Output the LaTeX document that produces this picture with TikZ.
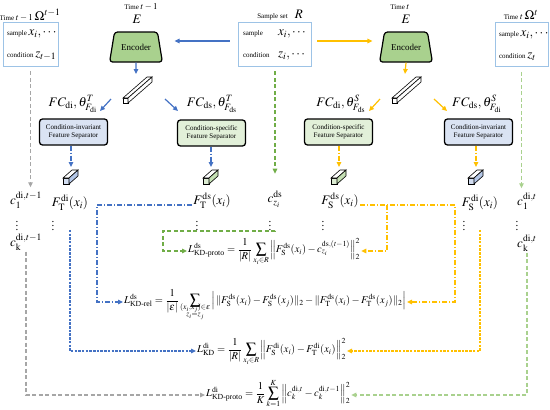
\documentclass[tikz,border=0pt]{standalone}
\usepackage{amsmath}
\usepackage{mathptmx}
\usepackage{fontspec}
\setmainfont{Liberation Serif}
\usetikzlibrary{arrows.meta,shapes.geometric}
\definecolor{cblue}{HTML}{4472C4}
\definecolor{corange}{HTML}{FFC000}
\definecolor{cgreen}{HTML}{70AD47}
\definecolor{clgreen}{HTML}{A9D18E}
\definecolor{cgray}{HTML}{A6A6A6}
\definecolor{boxblue}{HTML}{9DC3E6}
\definecolor{fillblue}{HTML}{DAE3F3}
\definecolor{fillgreen}{HTML}{E2F0D9}
\definecolor{encgreen}{HTML}{A9D18E}
\definecolor{cubeblue}{HTML}{B4C7E7}
\definecolor{cubegreen}{HTML}{C5E0B4}
\newcommand{\mfs}{\fontsize{13}{15}\selectfont}
\newcommand{\tfs}{\fontsize{9}{11}\selectfont}
\begin{document}
\begin{tikzpicture}[x=1pt,y=-1pt,font=\fontsize{7}{8.5}\selectfont,
  mth/.style={font=\mfs, inner sep=1pt},
  frm/.style={font=\fontsize{10.5}{12}\selectfont, inner sep=1pt, anchor=west},
  setbox/.style={draw=boxblue, line width=0.8pt, minimum height=44pt, inner sep=0pt},
  encoder/.style={trapezium, trapezium stretches=true, trapezium angle=72,
    minimum width=53pt, minimum height=30pt, draw, line width=1.2pt,
    rounded corners=3pt, fill=encgreen, font=\fontsize{9}{10}\selectfont},
  sep/.style={draw, line width=1.3pt, rounded corners=3pt, minimum width=68pt,
    minimum height=26pt, align=center},
  ar/.style={-{Triangle[length=5pt,width=4.5pt]}, line width=1.2pt},
  dashdot/.style={dash pattern=on 5pt off 2pt on 1pt off 2pt},
  dsh/.style={dash pattern=on 4pt off 2.5pt},
  fine/.style={dash pattern=on 2.5pt off 1.2pt}]
  \useasboundingbox (0,0) rectangle (550,410);

  % sets of samples
  \node (tOmA) at (30,15) {Time {\tfs$t-1$} {\mfs$\Omega^{t-1}$}};
  \node[setbox, minimum width=55pt] (omA) at (30.5,44) {};
  \node[anchor=west] at ([xshift=1pt,yshift=10pt]omA.west) {sample {\mfs$x_i,\cdots$}};
  \node[anchor=west] at ([xshift=1pt,yshift=-12pt]omA.west) {condition {\mfs$z_{t-1}$}};
  \node (tR) at (280,15) {Sample set\quad{\mfs$R$}};
  \node[setbox, minimum width=73pt] (sampR) at (274.5,44) {};
  \node[anchor=west] at ([xshift=2pt,yshift=10pt]sampR.west) {\makebox[35pt][l]{sample}{\mfs$x_i,\cdots$}};
  \node[anchor=west] at ([xshift=2pt,yshift=-12pt]sampR.west) {\makebox[35pt][l]{condition}{\mfs$z_i,\cdots$}};
  \node (tOmB) at (521,15) {Time {\tfs$t$} {\mfs$\Omega^{t}$}};
  \node[setbox, minimum width=53pt] (omB) at (521.5,44.5) {};
  \node[anchor=west] at ([xshift=1pt,yshift=10pt]omB.west) {sample {\mfs$x_i,\cdots$}};
  \node[anchor=west] at ([xshift=1pt,yshift=-12pt]omB.west) {condition {\mfs$z_t$}};

  % encoders
  \node (tA) at (141,7) {Time {\tfs$t-1$}};
  \node[mth] (eA) at (137,19) {$E$};
  \node[encoder] (enc1) at (136,47) {Encoder};
  \node (tB) at (400,7) {Time {\tfs$t$}};
  \node[mth] (eB) at (406,19) {$E$};
  \node[encoder] (enc2) at (406,47) {Encoder};

  % feature bars
  \foreach \x/\n in {123/A, 392/B} {
    \begin{scope}[shift={(\x,103)}, line width=0.6pt]
      \draw[fill=white] (0,0) -- (5,0) -- (5,-5) -- (0,-5) -- cycle;
      \draw[fill=white] (0,-5) -- (5,-5) -- (29,-26) -- (24,-26) -- cycle;
      \draw[fill=white] (5,0) -- (29,-21) -- (29,-26) -- (5,-5) -- cycle;
      \coordinate (bar\n-in) at (13,-29);
      \coordinate (bar\n-l) at (-12,-4);
      \coordinate (bar\n-lo) at (-23,8);
      \coordinate (bar\n-r) at (42,-4);
      \coordinate (bar\n-ro) at (55,8);
    \end{scope}}

  \draw[ar, cblue, shorten <=8pt, shorten >=14pt] ([yshift=3pt]sampR.west) -- ([yshift=3pt]sampR.west -| enc1.east);
  \draw[ar, corange, shorten <=6pt, shorten >=9pt] ([yshift=3pt]sampR.east) -- ([yshift=3pt]sampR.east -| enc2.west);
  \draw[ar, cblue] (enc1.south) -- (barA-in);
  \draw[ar, cblue] (barA-l) -- (barA-lo);
  \draw[ar, cblue] (barA-r) -- (barA-ro);
  \draw[ar, corange] (enc2.south) -- (barB-in);
  \draw[ar, corange] (barB-l) -- (barB-lo);
  \draw[ar, corange] (barB-r) -- (barB-ro);

  % separators
  \node[mth] (fcTdi) at (73,104) {$FC_{\mathrm{di}},\theta^{T}_{F_{\mathrm{di}}}$};
  \node[mth] (fcTds) at (212,104) {$FC_{\mathrm{ds}},\theta^{T}_{F_{\mathrm{ds}}}$};
  \node[mth] (fcSds) at (341,104) {$FC_{\mathrm{di}},\theta^{S}_{F_{\mathrm{ds}}}$};
  \node[mth] (fcSdi) at (477,104) {$FC_{\mathrm{ds}},\theta^{S}_{F_{\mathrm{di}}}$};
  \node[sep, fill=fillblue] (sepTdi) at (73.5,132) {Condition-invariant\\Feature Separator};
  \node[sep, fill=fillgreen] (sepTds) at (211.5,133) {Condition-specific\\Feature Separator};
  \node[sep, fill=fillgreen] (sepSds) at (338.5,132) {Condition-specific\\Feature Separator};
  \node[sep, fill=fillblue] (sepSdi) at (478.5,132) {Condition-invariant\\Feature Separator};

  \foreach \x/\c/\n in {71/cubeblue/Tdi, 211/cubegreen/Tds, 339/cubegreen/Sds, 476/cubeblue/Sdi} {
    \begin{scope}[shift={(\x,176)}, line width=0.6pt]
      \draw[fill=\c!60] (-8,8) -- (-2,8) -- (-2,2) -- (-8,2) -- cycle;
      \draw[fill=white] (-8,2) -- (-2,2) -- (7,-6) -- (1,-6) -- cycle;
      \draw[fill=\c] (-2,8) -- (7,0) -- (7,-6) -- (-2,2) -- cycle;
      \coordinate (cube\n) at (0,-9);
    \end{scope}}
  \draw[ar, cblue, dashdot] (sepTdi.south -| cubeTdi) -- (cubeTdi);
  \draw[ar, cblue, dashdot] (sepTds.south -| cubeTds) -- (cubeTds);
  \draw[ar, corange, dashdot] (sepSds.south -| cubeSds) -- (cubeSds);
  \draw[ar, corange, dashdot] (sepSdi.south -| cubeSdi) -- (cubeSdi);

  % features and prototypes
  \node[mth] (cOld1) at (26,200) {$c^{\mathrm{di},t-1}_{1}$};
  \node[mth] (fTdi) at (70,203) {$F^{\mathrm{di}}_{\mathrm{T}}(x_i)$};
  \node[mth] (fTds) at (212,201) {$F^{\mathrm{ds}}_{\mathrm{T}}(x_i)$};
  \node[mth] (cz) at (275,199) {$c^{\mathrm{ds}}_{z_i}$};
  \node[mth] (fSds) at (340,201) {$F^{\mathrm{ds}}_{\mathrm{S}}(x_i)$};
  \node[mth] (fSdi) at (480,203) {$F^{\mathrm{di}}_{\mathrm{S}}(x_i)$};
  \node[mth] (cNew1) at (527,201) {$c^{\mathrm{di},t}_{1}$};
  \foreach \x/\n in {17/cOld1, 53/fTdi, 197/fTds, 270/cz, 323/fSds, 464/fSdi, 517/cNew1}
    \node[inner sep=0pt, font=\fontsize{11}{12}\selectfont] (\n-v) at (\x,223) {$\vdots$};
  \node[mth] (cOldK) at (26,242) {$c^{\mathrm{di},t-1}_{\mathrm{k}}$};
  \node[mth] (cNewK) at (527,243) {$c^{\mathrm{di},t}_{\mathrm{k}}$};

  % losses
  \node[frm] (lProto) at (187,251) {$\displaystyle L^{\mathrm{ds}}_{\text{KD-proto}}=\frac{1}{|R|}\sum\limits_{\smash{x_i\in R}}\Big\lVert F^{\mathrm{ds}}_{\mathrm{S}}(x_i)-c^{\mathrm{ds},(t-1)}_{z_i}\Big\rVert_2^2$};
  \node[frm] (lRel) at (123,302) {$\displaystyle L^{\mathrm{ds}}_{\text{KD-rel}}=\frac{1}{|\varepsilon|}\sum\limits_{\smash{\substack{(x_i,x_j)\in\varepsilon\\ z_i=z_j}}}\Big|\,\lVert F^{\mathrm{ds}}_{\mathrm{S}}(x_i)-F^{\mathrm{ds}}_{\mathrm{S}}(x_j)\rVert_2-\lVert F^{\mathrm{ds}}_{\mathrm{T}}(x_i)-F^{\mathrm{ds}}_{\mathrm{T}}(x_j)\rVert_2\Big|$};
  \node[frm] (lKD) at (196,351) {$\displaystyle L^{\mathrm{di}}_{\mathrm{KD}}=\frac{1}{|R|}\sum\limits_{\smash{x_i\in R}}\Big\lVert F^{\mathrm{di}}_{\mathrm{S}}(x_i)-F^{\mathrm{di}}_{\mathrm{T}}(x_i)\Big\rVert_2^2$};
  \node[frm] (lProtoDi) at (205,395) {$\displaystyle L^{\mathrm{di}}_{\text{KD-proto}}=\frac{1}{K}\sum\limits_{\smash{k=1}}^{\smash{K}}\Big\lVert c^{\mathrm{di},t}_{k}-c^{\mathrm{di},t-1}_{k}\Big\rVert_2^2$};

  % connectors
  \draw[ar, cgray, dsh, shorten <=5pt, shorten >=3pt] (omA.south) -- (omA.south |- cOld1.north);
  \draw[ar, clgreen, dsh, shorten <=5pt, shorten >=3pt] (omB.south) -- (omB.south |- cNew1.north);
  \draw[ar, cgreen, dsh, shorten <=5pt, shorten >=16pt] (sampR.south -| cz) -- (cz.north);
  \draw[ar, cgreen, dsh] (cz.south |- cz-v.south) |- (163,231) |- (lProto.west);
  \draw[ar, corange, dashdot] ([yshift=-4pt]fSds.east -| 387,0) |- (lProto.east);
  \draw[ar, corange, dashdot] ([yshift=-4pt]fSds.east) -| (lRel.east -| 455,0) -- (lRel.east);
  \draw[ar, cblue, dashdot] ([yshift=-4pt]fTds.west) -| (lRel.west -| 97,0) -- (lRel.west);
  \draw[ar, cblue, fine] ([yshift=-18pt]fTdi.south) |- (lKD.west);
  \draw[ar, corange, fine] ([yshift=-18pt]fSdi.south) |- (lKD.east);
  \draw[ar, cgray, dsh] (cOldK.south) |- (lProtoDi.west);
  \draw[ar, clgreen, dsh] (cNewK.south) |- (lProtoDi.east);
\end{tikzpicture}
\end{document}
